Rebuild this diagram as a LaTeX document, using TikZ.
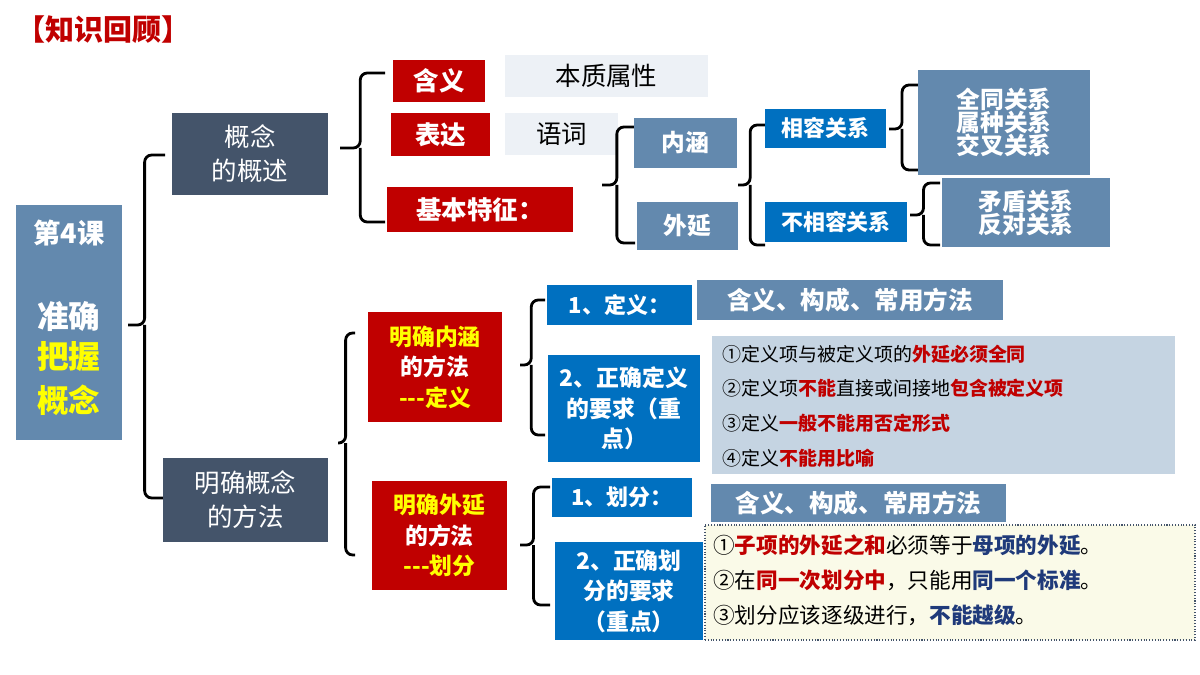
\documentclass[tikz,border=0pt]{standalone}
\usepackage{fontspec}
\setmainfont{Noto Sans CJK SC}
\definecolor{slate}{HTML}{44546A}
\definecolor{gblue}{HTML}{6389AE}
\definecolor{bblue}{HTML}{0070C0}
\definecolor{dred}{HTML}{C00000}
\definecolor{lgray}{HTML}{EDF1F6}
\definecolor{listbg}{HTML}{C5D4E2}
\definecolor{ybg}{HTML}{FAFAE8}
\definecolor{navy}{HTML}{1F3A7A}
\definecolor{yel}{HTML}{FFFF00}
\newcommand\fs[1]{\fontsize{#1pt}{\dimexpr #1pt*4/3\relax}\selectfont}
\newcommand\bx[7]{\pgfmathsetmacro\bw{(#4-#2)*0.02}\pgfmathsetmacro\bh{(#5-#3)*0.02}%
\node[#6,minimum width=\bw cm,minimum height=\bh cm] (#1) at ({(#2+#4)/2},{(#3+#5)/2}) {#7};}
\newcommand\brc[5]{\draw[brc] (#2,#3) -- (#1+0.45*#2-0.45*#1,#3) -- (#1+0.45*#2-0.45*#1,#4) -- (#1,#4) (#1+0.45*#2-0.45*#1,#4) -- (#1+0.45*#2-0.45*#1,#5) -- (#2,#5);}
\begin{document}
\begin{tikzpicture}[x=0.02cm,y=-0.02cm,
  box/.style={inner sep=0pt,outer sep=0pt,align=center,text=white,font=\bfseries\fs{14.5}},
  slatebox/.style={box,fill=slate,font=\fs{14.5}},
  gbox/.style={box,fill=gblue},
  bbox/.style={box,fill=bblue,font=\bfseries\fs{12.5}},
  rbox/.style={box,fill=dred},
  lbox/.style={box,fill=lgray,text=black,font=\fs{14.5}},
  brc/.style={line width=1.6pt,rounded corners=4pt},
  ln/.style={anchor=west,inner sep=0pt,font=\fs{10.8}},
  ln2/.style={anchor=west,inner sep=0pt,font=\fs{12.3}}]
\useasboundingbox (0,0) rectangle (1200,675);
\node[anchor=west,text=dred,font=\bfseries\fs{16.5}] (title) at (10,30) {【知识回顾】};
\bx{lesson}{16}{205}{122}{440}{gbox}{}
\node[text=white,font=\bfseries\fs{15.5}] (l1) at (69,233) {第4课};
\node[text=white,font=\bfseries\fs{18}] (l2) at (69,316) {准确};
\node[text=yel,font=\bfseries\fs{18}] (l3) at (69,357) {把握};
\node[text=yel,font=\bfseries\fs{18}] (l4) at (69,400) {概念};
\brc{128}{165}{155}{325}{498}
\bx{gs}{172}{113}{328}{195}{slatebox}{概念\\的概述}
\bx{ff}{163}{458}{328}{542}{slatebox}{明确概念\\的方法}
\brc{340}{385}{73}{148}{222}
\bx{hy}{393}{60}{485}{102}{rbox}{含义}
\bx{bz}{505}{55}{708}{97}{lbox}{本质属性}
\bx{bd}{391}{113}{490}{156}{rbox}{表达}
\bx{yc}{505}{113}{618}{155}{lbox}{语词}
\bx{tz}{387}{187}{573}{232}{rbox}{基本特征：}
\brc{602}{635}{127}{185}{243}
\bx{nh}{634}{118}{737}{168}{gbox,font=\bfseries\fs{13.5}}{内涵}
\bx{wy}{637}{202}{738}{250}{gbox,font=\bfseries\fs{13.5}}{外延}
\brc{738}{765}{125}{185}{245}
\bx{xr}{765}{109}{886}{148}{bbox}{相容关系}
\bx{bxr}{765}{202}{907}{242}{bbox}{不相容关系}
\brc{889}{918}{85}{129}{170}
\bx{g1}{918}{70}{1090}{175}{gbox,font=\bfseries\fs{13.5}}{全同关系\\[-5pt]属种关系\\[-5pt]交叉关系}
\brc{910}{940}{183}{215}{245}
\bx{g2}{942}{178}{1110}{247}{gbox,font=\bfseries\fs{13.5}}{矛盾关系\\[-5pt]反对关系}
\brc{338}{355}{333}{443}{555}
\bx{mn}{368}{312}{502}{422}{rbox,font=\bfseries\fs{13}}{\textcolor{yel}{明确内涵}\\的方法\\\textcolor{yel}{-{}-{}-定义}}
\bx{mw}{372}{481}{507}{590}{rbox,font=\bfseries\fs{13}}{\textcolor{yel}{明确外延}\\的方法\\\textcolor{yel}{-{}-{}-划分}}
\brc{520}{545}{300}{365}{435}
\bx{dy}{547}{285}{692}{325}{bbox}{1、定义：}
\bx{dy2}{697}{280}{1003}{320}{gbox,font=\bfseries\fs{14}}{含义、构成、常用方法}
\bx{dyq}{548}{355}{700}{462}{bbox,font=\bfseries\fs{13}}{2、正确定义\\的要求（重\\点）}
\bx{lst}{712}{336}{1175}{474}{box,fill=listbg}{}
\node[ln] (a1) at (722,354) {①定义项与被定义项的\textcolor{dred}{\bfseries 外延必须全同}};
\node[ln] (a2) at (722,388) {②定义项\textcolor{dred}{\bfseries 不能}直接或间接地\textcolor{dred}{\bfseries 包含被定义项}};
\node[ln] (a3) at (722,423) {③定义\textcolor{dred}{\bfseries 一般不能用否定形式}};
\node[ln] (a4) at (722,458) {④定义\textcolor{dred}{\bfseries 不能用比喻}};
\brc{520}{550}{487}{545}{605}
\bx{hf}{552}{478}{692}{517}{bbox}{1、划分：}
\bx{hf2}{711}{484}{1006}{522}{gbox,font=\bfseries\fs{14}}{含义、构成、常用方法}
\bx{hfq}{555}{542}{703}{640}{bbox,font=\bfseries\fs{13}}{2、正确划\\分的要求\\（重点）}
\bx{ylst}{705}{525}{1195}{640}{box,fill=ybg,draw=slate,densely dotted,line width=0.6pt}{}
\node[ln2] (b1) at (713,545) {①\textcolor{dred}{\bfseries 子项的外延之和}必须等于\textcolor{navy}{\bfseries 母项的外延}。};
\node[ln2] (b2) at (713,580) {②在\textcolor{dred}{\bfseries 同一次划分中}，只能用\textcolor{navy}{\bfseries 同一个标准}。};
\node[ln2] (b3) at (713,615) {③划分应该逐级进行，\textcolor{navy}{\bfseries 不能越级}。};
\end{tikzpicture}
\end{document}
